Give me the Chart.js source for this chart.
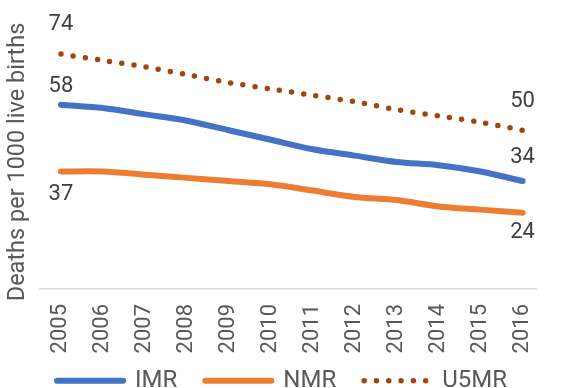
<!DOCTYPE html>
<html>
<head>
<meta charset="utf-8">
<script src="https://cdn.jsdelivr.net/npm/chart.js@4/dist/chart.umd.min.js"></script>
<style>
  html, body { margin: 0; padding: 0; background: #fff; }
  #wrap { width: 564px; height: 388px; }
</style>
</head>
<body>
<div id="wrap"><canvas id="grafico" width="564" height="388"></canvas></div>
<script>
// years on the x axis
var anos = [2005, 2006, 2007, 2008, 2009, 2010, 2011, 2012, 2013, 2014, 2015, 2016];

// deaths per 1000 live births
var imr = [58, 57, 55, 53, 50, 47, 44, 42, 40, 39, 37, 34];
var nmr = [37, 37, 36, 35, 34, 33, 31, 29, 28, 26, 25, 24];
var u5mr = [74, 72, 70, 67.5, 65, 63, 61, 59, 56.5, 54.5, 52.5, 50];

var nomesSeries = ['IMR', 'NMR', 'U5MR'];

var fonte = 'Roboto, "Open Sans", sans-serif';

function pontos(valores) {
    return valores.map(function (v, i) { return { x: anos[i], y: v }; });
}

// value labels on the first and last point of each line
// dy = baseline offset from the point
var rotulosPontos = {
    id: 'rotulosPontos',
    afterLayout: function (chart) {
        // legend starts a bit higher, over the bottom of the x axis box
        chart.legend.top -= 14.3;
    },
    afterDatasetsDraw: function (chart) {
        var ctx = chart.ctx;
        var offsets = [[-13, -18], [28, 25], [-24, -23]];
        ctx.save();
        ctx.font = '22px ' + fonte;
        ctx.fillStyle = '#404040';
        ctx.textAlign = 'center';
        ctx.textBaseline = 'alphabetic';
        chart.data.datasets.forEach(function (ds, i) {
            var meta = chart.getDatasetMeta(i);
            var ultimo = ds.data.length - 1;
            [0, ultimo].forEach(function (idx, k) {
                var p = meta.data[idx];
                ctx.fillText(String(ds.data[idx].y), p.x, p.y + offsets[i][k]);
            });
        });
        ctx.restore();
    }
};

// legend lines take width, cap and dash from the dataset line
function gerarLegenda(chart) {
    var itens = Chart.defaults.plugins.legend.labels.generateLabels(chart);
    itens.forEach(function (item) {
        var ds = chart.data.datasets[item.datasetIndex];
        item.lineWidth = ds.borderWidth;
        item.lineCap = ds.borderCapStyle;
        item.lineDash = ds.borderDash || [];
        item.strokeStyle = ds.borderColor;
        item.pointStyle = 'line';
    });
    return itens;
}

function plotarGrafico() {
    var ctx = document.getElementById('grafico').getContext('2d');

    new Chart(ctx, {
        type: 'line',
        data: {
            datasets: [
                {
                    label: nomesSeries[0],
                    data: pontos(imr),
                    borderColor: '#4472C4',
                    backgroundColor: '#4472C4',
                    borderWidth: 6,
                    borderCapStyle: 'round',
                    tension: 0.3,
                    pointRadius: 0
                },
                {
                    label: nomesSeries[1],
                    data: pontos(nmr),
                    borderColor: '#ED7D31',
                    backgroundColor: '#ED7D31',
                    borderWidth: 6,
                    borderCapStyle: 'round',
                    tension: 0.3,
                    pointRadius: 0
                },
                {
                    label: nomesSeries[2],
                    data: pontos(u5mr),
                    borderColor: '#9E480E',
                    backgroundColor: '#9E480E',
                    borderWidth: 5.5,
                    borderCapStyle: 'round',
                    borderDash: [0, 12.3],
                    tension: 0.3,
                    pointRadius: 0
                }
            ]
        },
        options: {
            responsive: false,
            animation: false,
            layout: { padding: { top: 35, left: 0, right: 0, bottom: 0 } },
            plugins: {
                tooltip: { enabled: false },
                legend: {
                    position: 'bottom',
                    maxHeight: 33,
                    labels: {
                        usePointStyle: true,
                        pointStyle: 'line',
                        pointStyleWidth: 66,
                        boxHeight: 24,
                        padding: 28,
                        color: '#595959',
                        font: { family: fonte, size: 24 },
                        generateLabels: gerarLegenda
                    }
                }
            },
            scales: {
                x: {
                    type: 'linear',
                    min: 2004.5,
                    max: 2016.33,
                    grid: { display: false, drawTicks: false },
                    border: { display: true, color: '#D9D9D9', width: 1.5 },
                    ticks: {
                        stepSize: 1,
                        includeBounds: false,
                        autoSkip: false,
                        minRotation: 90,
                        maxRotation: 90,
                        padding: 15,
                        color: '#595959',
                        font: { family: fonte, size: 22 },
                        callback: function (v) { return String(v); }
                    },
                    afterFit: function (scale) { scale.height = 66; }
                },
                y: {
                    min: 0,
                    max: 80,
                    grid: { display: false, drawTicks: false },
                    border: { display: false },
                    ticks: { display: false },
                    title: {
                        display: true,
                        text: 'Deaths per 1000 live births',
                        color: '#595959',
                        font: { family: fonte, size: 23.5, lineHeight: 1.2 },
                        padding: { top: 3.9, bottom: 7.9 }
                    }
                }
            }
        },
        plugins: [rotulosPontos]
    });
}

window.onload = function () {
    plotarGrafico();
};
</script>
</body>
</html>
